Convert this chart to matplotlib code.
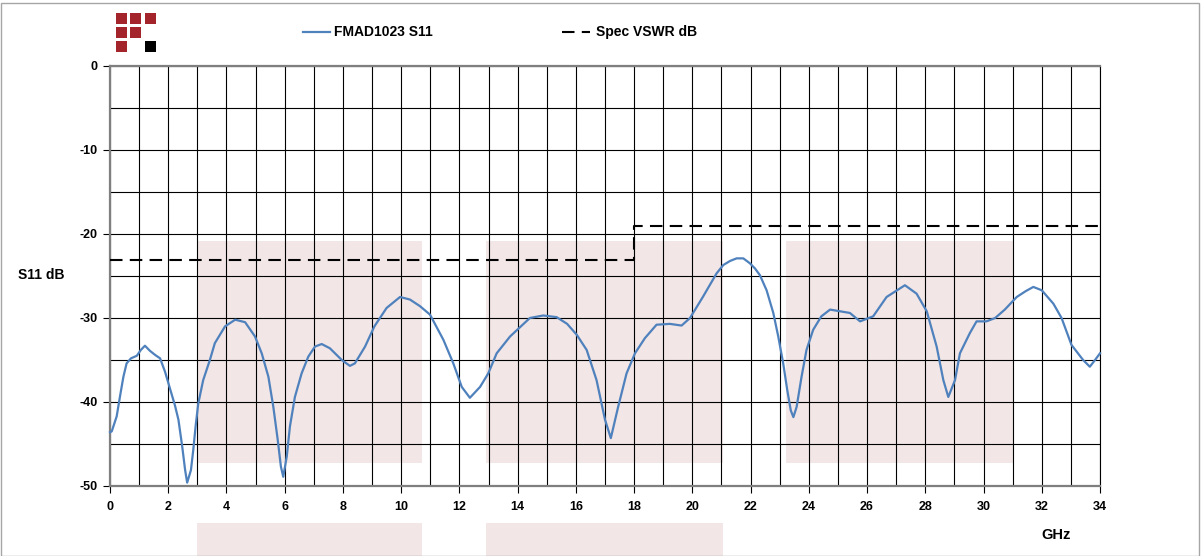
import matplotlib.pyplot as plt
import matplotlib.transforms as mtransforms
from matplotlib.patches import Rectangle
from matplotlib.lines import Line2D

plt.rcParams['font.family'] = ['Liberation Sans', 'DejaVu Sans']
plt.rcParams['font.weight'] = 'bold'
plt.rcParams['axes.unicode_minus'] = False

freq_ghz = [0.0, 0.06, 0.23, 0.34, 0.46, 0.57, 0.72, 0.92, 1.06, 1.2, 1.37, 1.55, 1.72, 1.89, 2.06,
            2.23, 2.35, 2.48, 2.58, 2.65, 2.78, 2.86, 2.94, 3.03, 3.2, 3.43, 3.6, 3.95, 4.3, 4.64,
            4.98, 5.21, 5.44, 5.61, 5.76, 5.87, 5.95, 6.07, 6.18, 6.35, 6.58, 6.81, 7.04, 7.27,
            7.55, 7.96, 8.24, 8.41, 8.76, 9.08, 9.5, 9.96, 10.3, 10.65, 10.99, 11.45, 11.79, 12.08,
            12.36, 12.71, 12.99, 13.28, 13.74, 14.42, 14.88, 15.34, 15.7, 16.03, 16.37, 16.71, 17.0,
            17.2, 17.45, 17.74, 18.03, 18.37, 18.77, 19.23, 19.63, 19.92, 20.36, 20.83, 21.06, 21.3,
            21.52, 21.75, 21.98, 22.15, 22.32, 22.55, 22.78, 22.95, 23.12, 23.26, 23.38, 23.47, 23.58,
            23.75, 23.92, 24.15, 24.43, 24.73, 25.07, 25.41, 25.76, 26.21, 26.67, 27.3, 27.7, 28.05,
            28.39, 28.62, 28.79, 29.02, 29.19, 29.53, 29.76, 30.1, 30.4, 30.73, 31.14, 31.45, 31.71,
            32.0, 32.4, 32.68, 33.02, 33.42, 33.65, 33.83, 34.0]
s11_db = [-43.6, -43.5, -41.7, -39.4, -37.0, -35.4, -34.8, -34.5, -33.8, -33.3, -33.9, -34.4, -34.8,
          -36.4, -38.4, -40.4, -42.1, -45.3, -48.1, -49.6, -48.1, -45.7, -42.9, -40.2, -37.4, -35.0,
          -33.0, -31.0, -30.2, -30.5, -32.2, -34.2, -37.0, -40.6, -44.5, -47.7, -48.9, -46.5, -42.9,
          -39.4, -36.6, -34.6, -33.4, -33.1, -33.6, -35.0, -35.7, -35.4, -33.4, -31.0, -28.8, -27.5,
          -27.8, -28.6, -29.6, -32.6, -35.4, -38.2, -39.5, -38.2, -36.6, -34.2, -32.2, -30.0, -29.7,
          -29.9, -30.7, -32.0, -33.8, -37.4, -42.1, -44.3, -40.6, -36.6, -34.2, -32.4, -30.8, -30.7,
          -30.9, -30.0, -27.5, -24.7, -23.7, -23.2, -22.9, -22.9, -23.5, -24.1, -24.9, -26.7, -29.4,
          -32.2, -35.4, -38.6, -41.0, -41.8, -40.6, -37.0, -33.8, -31.4, -29.8, -29.0, -29.2, -29.4,
          -30.4, -29.8, -27.5, -26.1, -27.1, -29.2, -33.4, -37.4, -39.4, -37.4, -34.2, -31.8, -30.4,
          -30.4, -30.0, -29.0, -27.5, -26.8, -26.3, -26.7, -28.3, -30.0, -33.2, -35.0, -35.8, -35.0,
          -34.2]

# spec limit (VSWR 1.15 up to 18 GHz, VSWR 1.25 above)
spec_ghz = [0, 18, 18, 34]
spec_db = [-23.13, -23.13, -19.08, -19.08]

# shaded bands
band_start = [3.0, 12.9, 23.2]
band_end = [10.7, 21.05, 31.05]
band_low = -47.3
band_high = -20.8

W, H = 1201, 556
fig = plt.figure(figsize=(W / 100, H / 100), dpi=100)
ax = fig.add_axes([110 / W, 1 - 486 / H, 990 / W, 420 / H])

pink = '#f2e6e6'
blended = mtransforms.blended_transform_factory(ax.transData, ax.transAxes)
for i, (x0, x1) in enumerate(zip(band_start, band_end)):
    ax.add_patch(Rectangle((x0, band_low), x1 - x0, band_high - band_low,
                           facecolor=pink, edgecolor='none', zorder=0.5))
    if i < 2:
        # the boxes peeking below the axis
        ax.add_patch(Rectangle((x0, -0.2), x1 - x0, 0.112, transform=blended,
                               facecolor=pink, edgecolor='none', clip_on=False))

ax.plot(freq_ghz, s11_db, color='#4f81bd', lw=1.6, zorder=3, clip_on=False,
        solid_joinstyle='round')
ax.plot(spec_ghz, spec_db, color='black', lw=1.5, dashes=(6, 3.5), zorder=3)

ax.set_xlim(0, 34)
ax.set_ylim(-50, 0)
ax.set_xticks(range(0, 35, 2))
ax.set_xticks(range(0, 35, 1), minor=True)
ax.set_yticks(range(-50, 1, 10))
ax.set_yticks(range(-50, 1, 5), minor=True)
ax.grid(True, which='both', color='black', lw=0.8, zorder=1)
ax.set_axisbelow(True)
ax.tick_params(axis='both', which='major', length=5, width=0.8, color='black',
               labelsize=9, direction='out')
ax.tick_params(axis='both', which='minor', length=0)
ax.tick_params(axis='x', pad=6)
ax.tick_params(axis='y', pad=4)
for lab in ax.get_xticklabels() + ax.get_yticklabels():
    lab.set_fontweight('bold')

for side in ['bottom', 'left', 'top']:
    ax.spines[side].set_color('#7f7f7f')
    ax.spines[side].set_linewidth(1.6)
ax.spines['right'].set_color('black')
ax.spines['right'].set_linewidth(0.8)

fig.text(18 / W, 1 - 275 / H, 'S11 dB', fontsize=10, fontweight='bold', va='center', ha='left')
fig.text(1041 / W, 1 - 535 / H, 'GHz', fontsize=10.5, fontweight='bold', va='center', ha='left')

# legend drawn across the top
fig.add_artist(Line2D([303 / W, 330 / W], [1 - 32 / H, 1 - 32 / H], color='#4f81bd', lw=1.6))
fig.text(334 / W, 1 - 32 / H, 'FMAD1023 S11', fontsize=10, fontweight='bold', va='center')
fig.add_artist(Line2D([562 / W, 590 / W], [1 - 32 / H, 1 - 32 / H], color='black', lw=1.5,
                      dashes=(6, 3.5)))
fig.text(596 / W, 1 - 32 / H, 'Spec VSWR dB', fontsize=10, fontweight='bold', va='center')

# logo: 3x3 squares, red except the missing corner and the black one
red = '#a3252b'
for r in range(3):
    for c in range(3):
        if r + c > 2:
            continue
        x = 116 + c * 14.4
        y = 12.7 + r * 14.2
        fig.add_artist(Rectangle((x / W, 1 - (y + 11) / H), 11 / W, 11 / H,
                                 transform=fig.transFigure, facecolor=red, edgecolor='none'))
fig.add_artist(Rectangle((145 / W, 1 - (41 + 11) / H), 11 / W, 11 / H,
                         transform=fig.transFigure, facecolor='black', edgecolor='none'))

# grey frame around the chart
fig.add_artist(Rectangle((1 / W, 0), 1 - 3 / W, 1 - 3 / H, transform=fig.transFigure,
                         facecolor='none', edgecolor='#a6a6a6', lw=1.0))

fig.savefig('out.png', dpi=100)
